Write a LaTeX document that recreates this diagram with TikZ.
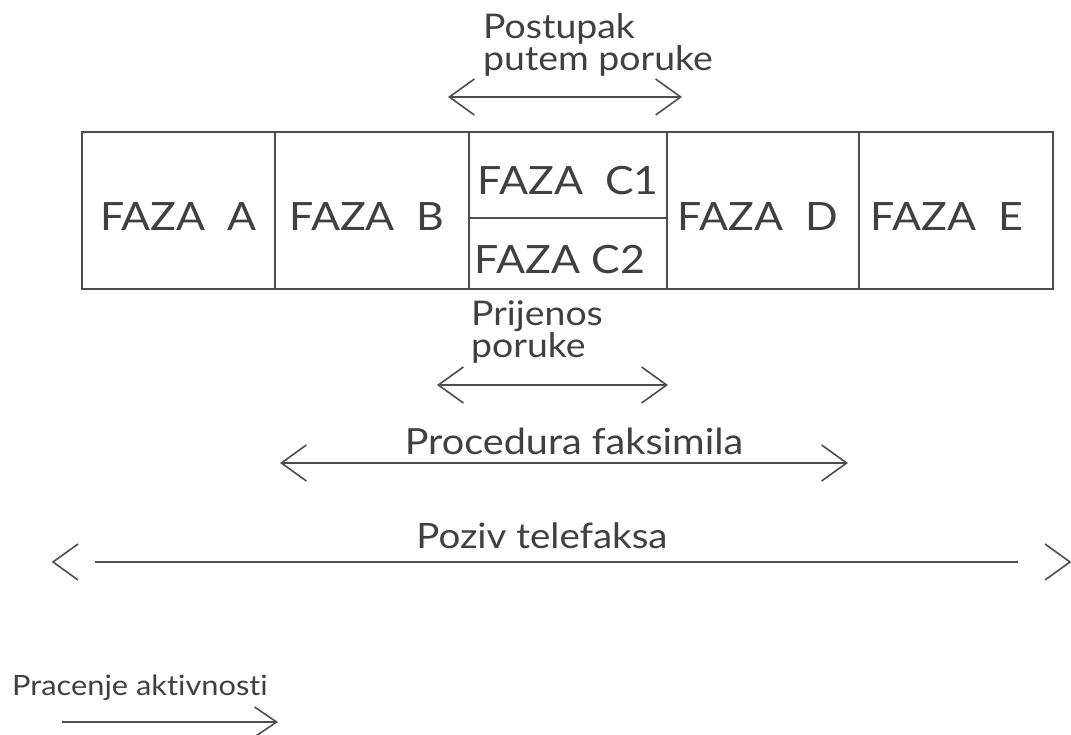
\documentclass[tikz,border=0pt]{standalone}
\usepackage{fontspec}
\setmainfont{Lato}[FakeStretch=1.1, Ligatures=NoCommon]
\usetikzlibrary{arrows.meta,positioning}
\definecolor{inkgray}{HTML}{404040}
\definecolor{linegray}{HTML}{4D4D4D}

\begin{document}
\begin{tikzpicture}[
    x=1pt, y=-1pt,
    >={Straight Barb[length=25pt,width=36pt]},   % open chevron tips
    phase/.style={draw=linegray, line width=1.5pt, outer sep=0pt, inner sep=0pt,
        minimum width=194pt, minimum height=157pt, text=inkgray,
        font=\fontsize{39}{47}\selectfont, text height=40pt, text depth=0pt},
    half/.style={phase, minimum width=198pt},
    lbl/.style={text=inkgray, font=\fontsize{34}{30}\selectfont, inner sep=0pt, align=left},
    span/.style={draw=linegray, line width=1.6pt},
    lchev/.pic={\draw[span] (25,-18) -- (0,0) -- (25,18);},
    rchev/.pic={\draw[span] (-25,-18) -- (0,0) -- (-25,18);}]
    \useasboundingbox (0,0) rectangle (1071,735);

    % Phases
    \node[phase, minimum width=193pt, anchor=north west] (fA) at (82,132) {FAZA~~A};
    \node[phase] (fB) [right=0pt of fA] {FAZA~~B\kern10pt};
    \node[half, minimum height=86pt, anchor=north west] (fC1) at (fB.north east) {FAZA~~C1};
    \node[half, minimum height=71pt] (fC2) [below=0pt of fC1] {FAZA C2\kern16pt};
    \node[phase, minimum width=192pt, anchor=north west] (fD) at (fC1.north east) {FAZA~~D\kern10pt};
    \node[phase] (fE) [right=0pt of fD] {FAZA~~E\kern18pt};

    % Labels
    \node[lbl, anchor=north west] (post) at (483,13) {Postupak\\putem poruke};
    \node[lbl, anchor=north west] (prij) at (471,300) {Prijenos\\poruke};
    \node[lbl, anchor=base, font=\fontsize{36}{30}\selectfont] (proc) at (574,454) {Procedura faksimila};
    \node[lbl, anchor=base, font=\fontsize{35}{30}\selectfont] (poziv) at (542,548) {Poziv telefaksa};
    \node[lbl, anchor=base west, font=\fontsize{28}{30}\selectfont] (prac) at (12,695) {Pracenje aktivnosti};

    % Spans
    \coordinate (postL) at (448,97);
    \coordinate (postR) at (682,97);
    \coordinate (prijL) at (437,385);
    \coordinate (prijR) at (668,385);
    \coordinate (procL) at (280,463);
    \coordinate (procR) at (848,463);
    \coordinate (pozL) at (53,562);
    \coordinate (pozR) at (1070,562);
    \coordinate (pracL) at (62,722);
    \coordinate (pracR) at (278,722);

    \draw[span, <->] (postL) -- (postR);
    \draw[span, <->] (prijL) -- (prijR);
    \draw[span, <->] (procL) -- (procR);
    \draw[span, shorten <=42pt, shorten >=52pt] (pozL) -- (pozR);
    \pic at (pozL) {lchev};
    \pic at (pozR) {rchev};
    \draw[span, ->, >={Straight Barb[length=22pt,width=30pt]}] (pracL) -- (pracR);
\end{tikzpicture}
\end{document}
